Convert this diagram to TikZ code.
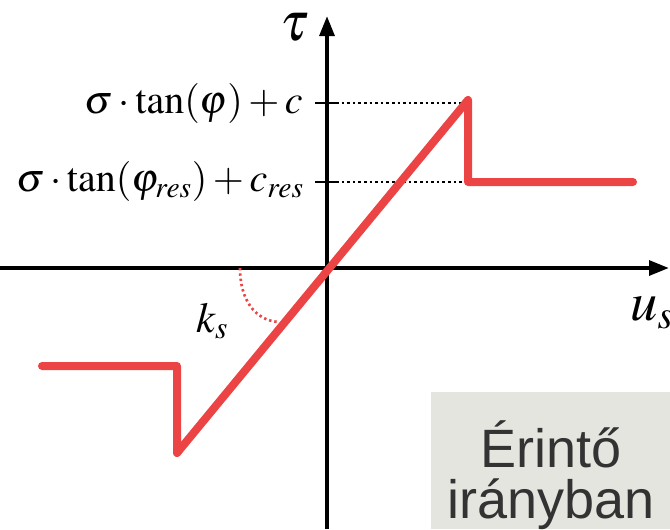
\documentclass[tikz,border=0pt]{standalone}
\usepackage{mathptmx}
\usepackage[no-math]{fontspec}
\newfontfamily\boxfont{Liberation Sans}
\usetikzlibrary{arrows.meta}
\definecolor{curvered}{RGB}{236,68,68}
\definecolor{boxgray}{RGB}{229,229,224}
\definecolor{boxtext}{RGB}{51,51,51}
\begin{document}
\begin{tikzpicture}[x=0.75pt,y=-0.75pt,
  axis/.style={line width=3pt,-{Triangle[length=15pt,width=11pt]}},
  tickmark/.style={line width=2.2pt},
  guide/.style={line width=2.1pt,dash pattern=on 1.9pt off 2.3pt},
  curve/.style={line width=6pt,curvered,line join=round,line cap=round},
  anglearc/.style={line width=2pt,curvered,dash pattern=on 1.8pt off 2.2pt},
  mathlabel/.style={inner sep=0pt,font=\fontsize{30}{36}\selectfont},
  biglabel/.style={inner sep=0pt,font=\fontsize{41}{48}\selectfont},
  boxlabel/.style={inner sep=0pt,text=boxtext,align=center,font=\boxfont\fontsize{40.5}{38.5}\selectfont}]
\useasboundingbox (0,0) rectangle (670,529);
% gray box
\fill[boxgray] (431,392) rectangle (670,529);
\node[boxlabel,anchor=base] (bx1) at (551,467) {Érintő};
\node[boxlabel,anchor=base] (bx2) at (551,518) {irányban};
% coordinates
\coordinate (O) at (327,268);
\coordinate (xl) at (0,268);
\coordinate (xr) at (669,268);
\coordinate (yb) at (327,529);
\coordinate (yt) at (327,16);
\coordinate (t1l) at (315,103);
\coordinate (t1r) at (336,103);
\coordinate (t2l) at (315,182);
\coordinate (t2r) at (336,182);
\coordinate (p0) at (42,366);
\coordinate (p1) at (177,366);
\coordinate (p2) at (177,453);
\coordinate (p3) at (468,100);
\coordinate (p4) at (468,182);
\coordinate (p5) at (633,182);
\coordinate (a0) at (240,268);
\coordinate (a1) at (278,322);
% axes
\draw[axis] (xl) -- (xr);
\draw[axis] (yb) -- (yt);
\draw[tickmark] (t1l) -- (t1r);
\draw[tickmark] (t2l) -- (t2r);
% guides
\draw[guide] (t1r) -- (465,103);
\draw[guide] (t2r) -- (p4);
% angle arc
\draw[anglearc] (a0) .. controls (240,300) and (255,320) .. (a1);
% red curve
\draw[curve] (p0) -- (p1) -- (p2) -- (p3) -- (p4) -- (p5);
% labels
\node[mathlabel,anchor=base east] (l1) at (303,113) {$\sigma\cdot\tan(\varphi)+c$};
\node[mathlabel,anchor=base east] (l2) at (304,191) {$\sigma\cdot\tan(\varphi_{res})+c_{res}$};
\node[biglabel,anchor=base west] (tau) at (280,40) {$\tau$};
\node[biglabel,anchor=base west] (us) at (630,320) {$u_s$};
\node[font=\fontsize{32}{38}\selectfont,inner sep=0pt,anchor=base west] (ks) at (196,332) {$k_s$};
\end{tikzpicture}
\end{document}
